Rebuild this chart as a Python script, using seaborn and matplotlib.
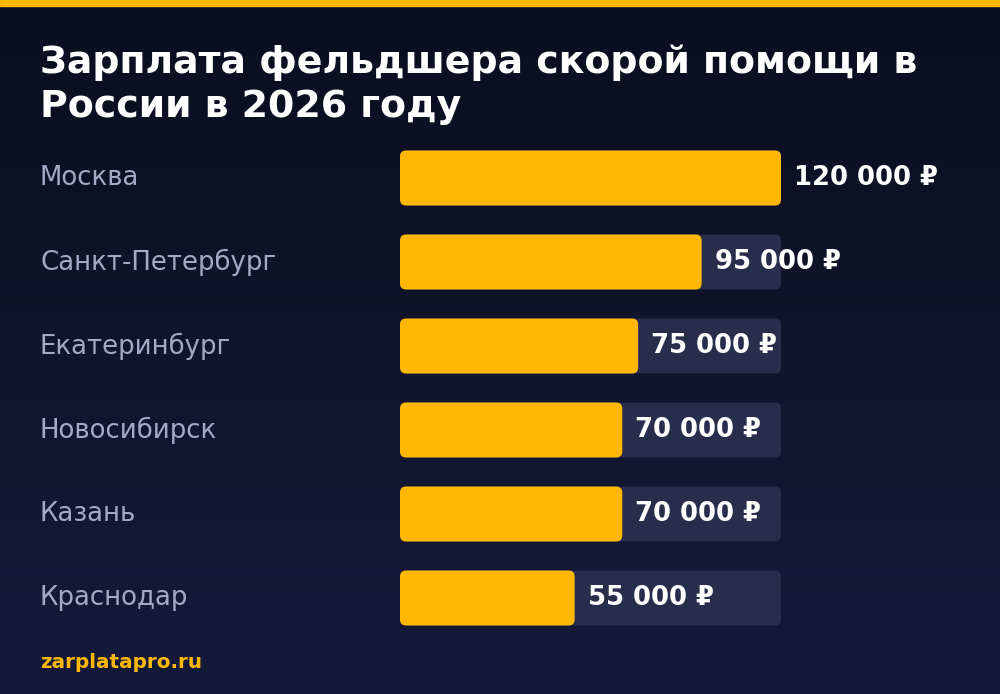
import numpy as np
import pandas as pd
import matplotlib
matplotlib.use("Agg")
import matplotlib.pyplot as plt
import seaborn as sns
from matplotlib.patches import FancyBboxPatch, Rectangle

# Chart data
cities = ["Москва", "Санкт-Петербург", "Екатеринбург", "Новосибирск", "Казань", "Краснодар"]
salaries = [120000, 95000, 75000, 70000, 70000, 55000]
value_labels = ["120 000 ₽", "95 000 ₽", "75 000 ₽", "70 000 ₽", "70 000 ₽", "55 000 ₽"]
title = "Зарплата фельдшера скорой помощи в\nРоссии в 2026 году"
footer = "zarplatapro.ru"

ORANGE = "#ffb800"
TRACK = "#282d4c"
LABEL = "#a6a9c6"

sns.set_theme(style="white")
plt.rcParams['font.family'] = ['DejaVu Sans']

W, H = 1000, 694
fig = plt.figure(figsize=(W / 100, H / 100), dpi=100)

# background gradient
bg = fig.add_axes([0, 0, 1, 1], zorder=-10)
grad = np.linspace(0, 1, 256).reshape(-1, 1)
top_c = np.array([0x0b, 0x0e, 0x1f]) / 255
bot_c = np.array([0x16, 0x1a, 0x3a]) / 255
img = top_c + grad[..., None] * (bot_c - top_c)
bg.imshow(img, aspect="auto", extent=[0, 1, 0, 1])
bg.add_patch(Rectangle((0, 1 - 6 / H), 1, 6 / H, color=ORANGE, transform=bg.transAxes))
bg.set_axis_off()

# bar axes: x=0 at px 400, x=max at px 781; rows 84 px apart
left_px, right_px = 400, 781
top_px, bot_px = 136, 640
ax = fig.add_axes([left_px / W, 1 - bot_px / H, (right_px - left_px) / W, (bot_px - top_px) / H])
ax.patch.set_alpha(0)

df = pd.DataFrame({"city": cities, "salary": salaries})
vmax = max(salaries)
sns.barplot(data=df.assign(track=vmax), x="track", y="city", orient="h",
            color=TRACK, width=0.655, ax=ax, saturation=1)
sns.barplot(data=df, x="salary", y="city", orient="h",
            color=ORANGE, width=0.655, ax=ax, saturation=1)

ax.set_xlim(0, vmax)
ax.set_ylim(len(cities) - 0.5, -0.5)

# rounded corners
x_per_px = vmax / (right_px - left_px)
y_per_px = 1 / 84
for p in list(ax.patches):
    x0, y0 = p.get_x(), p.get_y()
    w, h = p.get_width(), p.get_height()
    rb = FancyBboxPatch((x0, y0), w, h,
                        boxstyle=f"round,pad=0,rounding_size={6 * x_per_px}",
                        mutation_aspect=y_per_px / x_per_px,
                        facecolor=p.get_facecolor(), edgecolor="none",
                        zorder=p.get_zorder())
    p.remove()
    ax.add_patch(rb)

for i, (v, lab) in enumerate(zip(salaries, value_labels)):
    ax.text(v + 13 * x_per_px, i, lab, va="center", ha="left", color="white",
            fontsize=18.6, fontweight="bold", clip_on=False)
    fig.text(40 / W, 1 - (178 + 84 * i) / H, cities[i], va="center", ha="left",
             color=LABEL, fontsize=18.7)

ax.set_axis_off()

fig.text(40 / W, 1 - 85 / H, title, va="center", ha="left", color="white",
         fontsize=27.3, fontweight="bold", linespacing=1.28)
fig.text(40 / W, 1 - 663 / H, footer, va="center", ha="left", color=ORANGE,
         fontsize=14.4, fontweight="bold")

fig.savefig("out.png", dpi=100)
